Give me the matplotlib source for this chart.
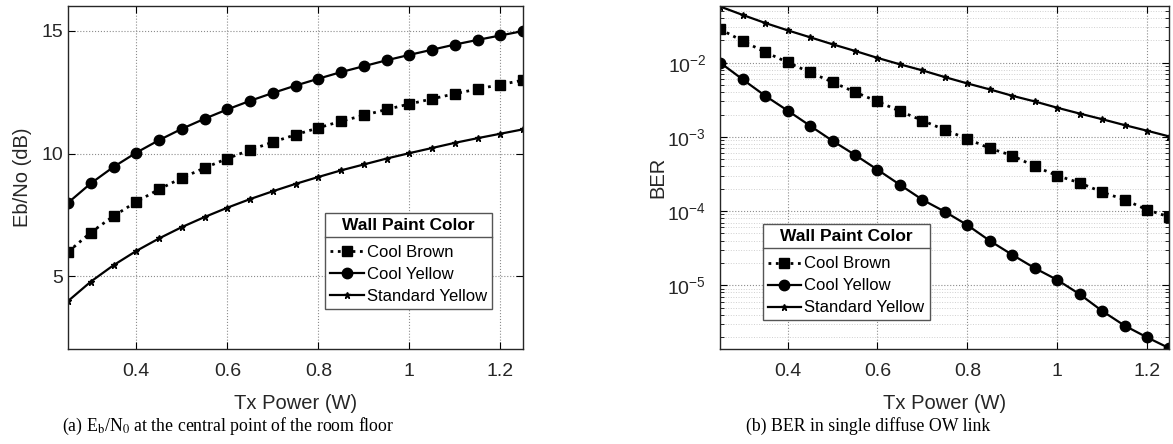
import numpy as np
import matplotlib
matplotlib.use('Agg')
import matplotlib.pyplot as plt
from matplotlib.lines import Line2D

plt.rcParams['font.family'] = ['Liberation Sans', 'DejaVu Sans']
plt.rcParams['mathtext.fontset'] = 'custom'
plt.rcParams['mathtext.rm'] = 'Liberation Sans'
plt.rcParams['mathtext.it'] = 'Liberation Sans:italic'

# Data
P = [0.25, 0.30, 0.35, 0.40, 0.45, 0.50, 0.55, 0.60, 0.65, 0.70, 0.75,
     0.80, 0.85, 0.90, 0.95, 1.00, 1.05, 1.10, 1.15, 1.20, 1.25]

# Eb/No (dB)
ebno_cool_brown = [6.00, 6.79, 7.46, 8.04, 8.55, 9.01, 9.42, 9.80, 10.15, 10.47,
                   10.77, 11.05, 11.32, 11.56, 11.80, 12.02, 12.23, 12.44,
                   12.63, 12.81, 12.99]
ebno_cool_yellow = [8.00, 8.79, 9.46, 10.04, 10.55, 11.01, 11.42, 11.80, 12.15,
                    12.47, 12.77, 13.05, 13.32, 13.56, 13.80, 14.02, 14.23,
                    14.44, 14.63, 14.81, 14.99]
ebno_std_yellow = [4.00, 4.79, 5.46, 6.04, 6.55, 7.01, 7.42, 7.80, 8.15, 8.47,
                   8.77, 9.05, 9.32, 9.56, 9.80, 10.02, 10.23, 10.44, 10.63,
                   10.81, 10.99]

# BER
ber_cool_brown = [2.82e-2, 1.96e-2, 1.39e-2, 1.01e-2, 7.40e-3, 5.47e-3, 4.01e-3,
                  3.00e-3, 2.22e-3, 1.66e-3, 1.24e-3, 9.4e-4, 7.0e-4, 5.6e-4,
                  4.0e-4, 3.0e-4, 2.4e-4, 1.8e-4, 1.42e-4, 1.04e-4, 8.3e-5]
ber_cool_yellow = [1.00e-2, 5.94e-3, 3.58e-3, 2.26e-3, 1.41e-3, 8.83e-4, 5.71e-4,
                   3.61e-4, 2.26e-4, 1.42e-4, 9.79e-5, 6.47e-5, 3.97e-5, 2.57e-5,
                   1.70e-5, 1.18e-5, 7.56e-6, 4.50e-6, 2.85e-6, 1.98e-6, 1.41e-6]
ber_std_yellow = [5.71e-2, 4.40e-2, 3.43e-2, 2.73e-2, 2.20e-2, 1.77e-2, 1.44e-2,
                  1.16e-2, 9.5e-3, 7.87e-3, 6.39e-3, 5.25e-3, 4.36e-3, 3.58e-3,
                  3.00e-3, 2.47e-3, 2.06e-3, 1.73e-3, 1.44e-3, 1.21e-3, 1.01e-3]

labels = ['Cool Brown', 'Cool Yellow', 'Standard Yellow']
txt = '#262626'

fig = plt.figure(figsize=(11.73, 4.44), dpi=100)
ax1 = fig.add_axes([0.058, 0.214, 0.388, 0.772])
ax2 = fig.add_axes([0.614, 0.214, 0.383, 0.772])


def draw_series(ax, y1, y2, y3):
    ax.plot(P, y1, color='k', ls=':', lw=2, marker='s', ms=6.5, label=labels[0])
    ax.plot(P, y2, color='k', ls='-', lw=1.6, marker='o', ms=7.5, label=labels[1])
    ax.plot(P, y3, color='k', ls='-', lw=1.6, marker='*', ms=4.5,
            label=labels[2])


def style_axes(ax, ypad):
    ax.set_xlim(0.25, 1.25)
    ax.set_xticks([0.4, 0.6, 0.8, 1.0, 1.2])
    ax.set_xticklabels(['0.4', '0.6', '0.8', '1', '1.2'])
    ax.tick_params(which='both', direction='in', top=True, right=True,
                   labelsize=14, labelcolor=txt)
    ax.tick_params(axis='x', pad=10)
    ax.tick_params(axis='y', pad=ypad)
    ax.tick_params(which='major', length=5)
    ax.tick_params(which='minor', length=3)
    ax.set_xlabel('Tx Power (W)', fontsize=14.5, color=txt, labelpad=10.5)
    for s in ax.spines.values():
        s.set_color('#262626')
        s.set_linewidth(1)


def add_legend(ax, anchor):
    leg = ax.legend(loc='upper left', bbox_to_anchor=anchor, borderaxespad=0,
                    title='Wall Paint Color', fontsize=12, fancybox=False,
                    edgecolor='#555555', framealpha=1, handlelength=2.0,
                    handletextpad=0.2, borderpad=0.3, labelspacing=0.42)
    leg.get_title().set_fontweight('bold')
    leg.get_title().set_fontsize(12.5)
    leg.get_frame().set_linewidth(1)
    leg._legend_box.sep = 9
    return leg


# (a) Eb/No
draw_series(ax1, ebno_cool_brown, ebno_cool_yellow, ebno_std_yellow)
style_axes(ax1, 3.5)
ax1.set_ylim(2.05, 16.0)
ax1.set_yticks([5, 10, 15])
ax1.set_ylabel('Eb/No (dB)', fontsize=14.5, color=txt, labelpad=7)
ax1.grid(True, ls=':', color='#8c8c8c', lw=0.8)
leg1 = add_legend(ax1, (0.565, 0.398))

# (b) BER
draw_series(ax2, ber_cool_brown, ber_cool_yellow, ber_std_yellow)
ax2.set_yscale('log')
style_axes(ax2, 10)
ax2.set_ylim(1.38e-6, 0.0577)
ax2.set_yticks([1e-5, 1e-4, 1e-3, 1e-2])
ax2.set_ylabel('BER', fontsize=14.5, color=txt, labelpad=0)
ax2.grid(True, which='major', ls=':', color='#8c8c8c', lw=0.8)
ax2.grid(True, which='minor', ls=':', color='#d0d0d0', lw=0.7)
leg2 = add_legend(ax2, (0.0946, 0.365))

# separator line under the legend titles
fig.canvas.draw()
r = fig.canvas.get_renderer()
inv = fig.transFigure.inverted()
for leg in (leg1, leg2):
    fb = leg.get_frame().get_window_extent(r)
    tb = leg.get_title().get_window_extent(r)
    y = tb.y0 - 4
    (x0, yy), (x1, _) = inv.transform([(fb.x0, y), (fb.x1, y)])
    fig.add_artist(Line2D([x0, x1], [yy, yy], transform=fig.transFigure,
                          color='#555555', lw=1))

# captions
fig.text(62 / 1173, 1 - 426 / 444,
         r'(a) E$_\mathrm{b}$/N$_\mathrm{0}$ at the central point of the room floor',
         family='Liberation Serif', fontsize=12.8, va='center', ha='left',
         math_fontfamily='stix')
fig.text(746 / 1173, 1 - 426 / 444, '(b) BER in single diffuse OW link',
         family='Liberation Serif', fontsize=12.8, va='center', ha='left')

fig.savefig('out.png', dpi=100)
